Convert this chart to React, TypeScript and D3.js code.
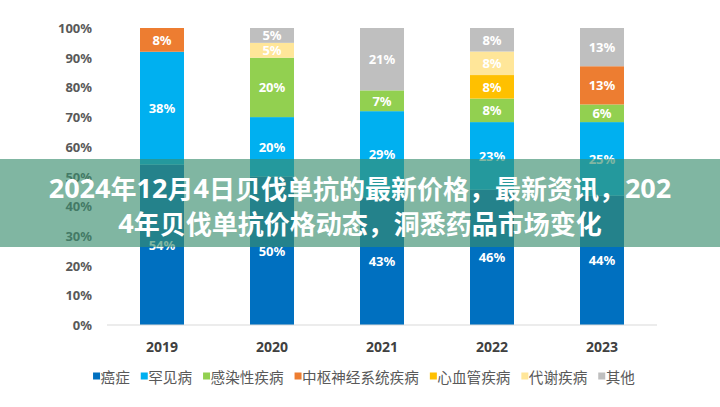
import React from 'react';
import * as d3 from 'd3';

const years = ['2019', '2020', '2021', '2022', '2023'];
const seriesNames = ['癌症', '罕见病', '感染性疾病', '中枢神经系统疾病', '心血管疾病', '代谢疾病', '其他'];
const cancer = [54, 50, 43, 46, 44];
const rare = [38, 20, 29, 23, 25];
const infectious = [0, 20, 7, 8, 6];
const cns = [8, 0, 0, 0, 13];
const cardio = [0, 0, 0, 8, 0];
const metabolic = [0, 5, 0, 8, 0];
const other = [0, 5, 21, 8, 13];
const seriesValues = [cancer, rare, infectious, cns, cardio, metabolic, other];
const colors = ['#0070C0', '#00B0F0', '#92D050', '#ED7D31', '#FFC000', '#FFE699', '#BFBFBF'];
const yTicks = [0, 0.1, 0.2, 0.3, 0.4, 0.5, 0.6, 0.7, 0.8, 0.9, 1];
const titleLines = ['2024年12月4日贝伐单抗的最新价格，最新资讯，202', '4年贝伐单抗价格动态，洞悉药品市场变化'];

const W = 720;
const H = 407;
const latin = '"Noto Sans", "Open Sans", sans-serif';
const cjk = '"Noto Sans CJK SC", "Noto Sans", sans-serif';

function runs(s: string) {
  const out: { t: string; digit: boolean }[] = [];
  for (const ch of s) {
    const dg = /[0-9]/.test(ch);
    if (out.length && out[out.length - 1].digit === dg) out[out.length - 1].t += ch;
    else out.push({ t: ch, digit: dg });
  }
  return out;
}

export default function App() {
  const rows = years.map((yr, i) => {
    const r: Record<string, any> = { year: yr };
    seriesNames.forEach((n, k) => (r[n] = seriesValues[k][i]));
    return r;
  });
  const stacked = d3.stack<any>().keys(seriesNames).offset(d3.stackOffsetExpand)(rows);

  const x = d3.scaleBand().domain(years).range([107, 657]).paddingInner(0.6).paddingOuter(0.3);
  const y = d3.scaleLinear().domain([0, 1]).range([325, 28]);
  const pct = d3.format('.0%');

  // legend layout
  const legFont = 14.6;
  const items = seriesNames.map((n) => ({ name: n, w: 7.5 + n.length * legFont }));
  const gap = 11;
  const totalW = d3.sum(items, (d) => d.w) + gap * (items.length - 1);
  let lx = 364 - totalW / 2;
  const legendPos = items.map((it) => {
    const p = lx;
    lx += it.w + gap;
    return p;
  });

  return (
    <svg width={W} height={H} style={{ position: 'absolute', left: 0, top: 0, background: '#fff' }}>
      {yTicks.map((t) => (
        <text
          key={t}
          x={92}
          y={y(t)}
          textAnchor="end"
          dominantBaseline="central"
          fontFamily={latin}
          fontWeight="bold"
          fontSize={13}
          fill="#595959"
        >
          {pct(t)}
        </text>
      ))}
      {stacked.map((s, k) => (
        <g key={s.key} fill={colors[k]}>
          {s.map((d, i) => {
            const v = seriesValues[k][i];
            if (!v) return null;
            return (
              <rect
                key={i}
                x={x(years[i])}
                y={y(d[1])}
                width={x.bandwidth()}
                height={y(d[0]) - y(d[1])}
              />
            );
          })}
        </g>
      ))}
      {stacked.map((s, k) => (
        <g key={s.key + 'l'}>
          {s.map((d, i) => {
            const v = seriesValues[k][i];
            if (!v) return null;
            return (
              <text
                key={i}
                x={(x(years[i]) as number) + x.bandwidth() / 2}
                y={(y(d[0]) + y(d[1])) / 2}
                textAnchor="middle"
                dominantBaseline="central"
                fontFamily={latin}
                fontWeight="bold"
                fontSize={13}
                fill="#ffffff"
              >
                {v + '%'}
              </text>
            );
          })}
        </g>
      ))}
      <line x1={107} x2={657} y1={y(0)} y2={y(0)} stroke="#D9D9D9" strokeWidth={1} />
      {years.map((yr) => (
        <text
          key={yr}
          x={(x(yr) as number) + x.bandwidth() / 2}
          y={346}
          textAnchor="middle"
          dominantBaseline="central"
          fontFamily={latin}
          fontWeight="bold"
          fontSize={14}
          fill="#404040"
        >
          {yr}
        </text>
      ))}
      {items.map((it, k) => (
        <g key={it.name} transform={`translate(${legendPos[k]},376)`}>
          <rect x={0} y={-3.5} width={7} height={7} fill={colors[k]} />
          <text
            x={7.5}
            y={0}
            dominantBaseline="central"
            fontFamily={cjk}
            fontSize={legFont}
            fill="#595959"
          >
            {it.name}
          </text>
        </g>
      ))}
      <rect x={0} y={159} width={W} height={88} fill="rgb(56,141,109)" fillOpacity={0.64} />
      {titleLines.map((t, i) => (
        <text
          key={i}
          x={360}
          y={187 + i * 35}
          textAnchor="middle"
          dominantBaseline="central"
          fontFamily={cjk}
          fontWeight="bold"
          fontSize={26}
          fill="#ffffff"
        >
          {runs(t).map((r, j) => (
            <tspan key={j} fontFamily={r.digit ? latin : cjk} fontSize={r.digit ? 27 : 26}>
              {r.t}
            </tspan>
          ))}
        </text>
      ))}
    </svg>
  );
}
